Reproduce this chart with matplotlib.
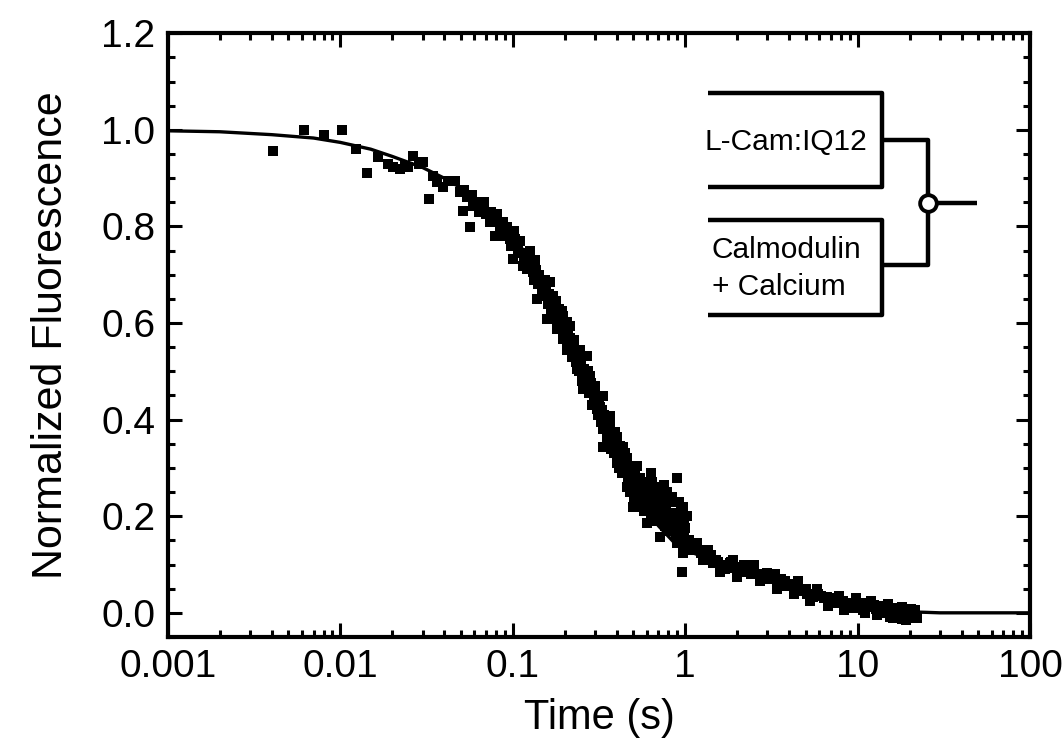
import matplotlib
matplotlib.use('Agg')
from matplotlib import pyplot as plt
from matplotlib.ticker import LogLocator, MultipleLocator, NullFormatter, FixedLocator, FixedFormatter, FormatStrFormatter

plt.rcParams['font.family'] = ['Liberation Sans', 'DejaVu Sans']

# stopped-flow trace (time in s, normalized fluorescence)
time_s = [
    0.0041, 0.0062, 0.0080, 0.0102, 0.0123, 0.0143, 0.0165, 0.0190, 0.0202, 0.0222,
    0.0237, 0.0247, 0.0264, 0.0285, 0.0302, 0.0326, 0.0344, 0.0363, 0.0394, 0.0420,
    0.0462, 0.0494, 0.0514, 0.0540, 0.0565, 0.0588, 0.0620, 0.0671, 0.0700, 0.0737,
    0.0788, 0.0809, 0.0843, 0.0880, 0.0925, 0.0963, 0.1000, 0.1020, 0.1050, 0.1100,
    0.1146, 0.1180, 0.1210, 0.1260, 0.1311, 0.1350, 0.1380, 0.1420, 0.1490, 0.1530,
    0.1580, 0.1640, 0.1640, 0.1680, 0.1710, 0.1710, 0.1760, 0.1800, 0.1850, 0.1900,
    0.1950, 0.1950, 0.2000, 0.2050, 0.2050, 0.2100, 0.2140, 0.2180, 0.2230, 0.2280,
    0.2360, 0.2400, 0.2450, 0.2500, 0.2560, 0.2620, 0.2690, 0.2690, 0.2750, 0.2800,
    0.2880, 0.2950, 0.3000, 0.3080, 0.3150, 0.3200, 0.3270, 0.3330, 0.3330, 0.3330,
    0.3400, 0.3500, 0.3580, 0.3660, 0.3660, 0.3750, 0.3850, 0.3930, 0.4020, 0.4020,
    0.4100, 0.4200, 0.4340, 0.4450, 0.4570, 0.4600, 0.4750, 0.4900, 0.4980, 0.5100,
    0.5250, 0.5400, 0.5500, 0.5680, 0.5800, 0.6000, 0.6100, 0.6250, 0.6400, 0.6550,
    0.6700, 0.6900, 0.7100, 0.7200, 0.7410, 0.7600, 0.7800, 0.8000, 0.8200, 0.8490,
    0.8700, 0.8940, 0.9100, 0.9300, 0.9500, 0.9600, 0.9700, 0.9900, 1.0200, 0.5300,
    0.5900, 0.6600, 0.7500, 0.8300, 0.9000, 0.9800, 0.4300, 0.4800, 0.6300, 0.8800,
    1.0500, 1.1000, 1.1700, 1.2300, 1.3000, 1.3500, 1.3800, 1.4500, 1.4500, 1.5500,
    1.6000, 1.6500, 1.7500, 1.8200, 1.8200, 1.9000, 1.9500, 2.0000, 2.1000, 2.2800,
    2.2800, 2.4500, 2.5000, 2.6000, 2.7000, 2.8200, 2.9800, 3.2000, 3.3000, 3.4000,
    3.5500, 3.8000, 4.1000, 4.3000, 4.4500, 4.5000, 4.8000, 5.1000, 5.3000, 5.5100,
    5.8000, 5.9000, 6.4000, 6.7000, 6.9200, 7.4000, 7.8000, 8.0000, 8.3000, 8.6800,
    9.3000, 9.8000, 10.000, 10.700, 11.000, 11.500, 12.000, 12.400, 13.000, 13.400,
    14.300, 15.000, 15.300, 16.000, 16.500, 17.500, 18.000, 18.000, 19.100, 20.000,
    20.500, 21.000, 22.000,
    # denser part of the band
    0.0520, 0.0580, 0.0640, 0.0680, 0.0750, 0.0780, 0.0830, 0.0860, 0.0900, 0.0950,
    0.0980, 0.1030, 0.1080, 0.1120, 0.1160, 0.1200, 0.1240, 0.1280, 0.1330, 0.1370,
    0.1400, 0.1450, 0.1470, 0.1510, 0.1550, 0.1600, 0.1620, 0.1660, 0.1730, 0.1780,
    0.1820, 0.1880, 0.1920, 0.1980, 0.2030, 0.2070, 0.2120, 0.2160, 0.2200, 0.2250,
    0.2320, 0.2380, 0.2420, 0.2480, 0.2530, 0.2580, 0.2650, 0.2720, 0.2780, 0.2840,
    0.2900, 0.2980, 0.3040, 0.3110, 0.3180, 0.3240, 0.3300, 0.3370, 0.3450, 0.3530,
    0.3620, 0.3700, 0.3800, 0.3880, 0.3970, 0.4050, 0.4150, 0.4250, 0.4380, 0.4500,
    0.4650, 0.4700, 0.4850, 0.4950, 0.5050, 0.5150, 0.5350, 0.5450, 0.5600, 0.5750,
    0.5850, 0.6050, 0.6150, 0.6350, 0.6450, 0.6600, 0.6800, 0.7000, 0.7300, 0.7450,
    0.7700, 0.7900, 0.8100, 0.8350, 0.8550, 0.8800, 0.9050, 0.9200, 0.9400, 0.9550,
    0.9750, 0.9850, 1.0000, 1.0100, 1.0700, 1.1300, 1.2000, 1.2700, 1.3300, 1.4200,
    1.5000, 1.7000, 1.8500, 2.2000, 2.4000, 2.9000, 3.1000, 3.6000, 3.9000, 4.2000,
    4.7000, 5.0000, 5.6000, 6.1000, 6.6000, 7.1000, 7.6000, 8.2000, 8.9000, 9.5000,
    10.300, 11.200, 12.700, 13.800, 14.800, 16.200, 17.000, 18.600, 19.500, 20.800,
    21.500,
]
fluor = [
    0.956, 1.000, 0.990, 1.000, 0.960, 0.911, 0.944, 0.930, 0.923, 0.919,
    0.925, 0.923, 0.946, 0.930, 0.934, 0.857, 0.905, 0.892, 0.882, 0.895,
    0.894, 0.871, 0.832, 0.860, 0.799, 0.842, 0.850, 0.836, 0.825, 0.809,
    0.780, 0.826, 0.795, 0.810, 0.799, 0.774, 0.732, 0.790, 0.759, 0.770,
    0.718, 0.745, 0.712, 0.749, 0.705, 0.730, 0.649, 0.700, 0.670, 0.690,
    0.608, 0.685, 0.608, 0.640, 0.656, 0.635, 0.620, 0.587, 0.630, 0.600,
    0.614, 0.566, 0.585, 0.602, 0.560, 0.575, 0.593, 0.545, 0.552, 0.565,
    0.504, 0.530, 0.545, 0.510, 0.463, 0.490, 0.531, 0.463, 0.475, 0.490,
    0.455, 0.440, 0.470, 0.421, 0.445, 0.427, 0.400, 0.448, 0.380, 0.344,
    0.410, 0.375, 0.390, 0.407, 0.394, 0.360, 0.350, 0.375, 0.365, 0.311,
    0.330, 0.345, 0.344, 0.300, 0.261, 0.320, 0.285, 0.300, 0.220, 0.270,
    0.303, 0.240, 0.280, 0.261, 0.230, 0.187, 0.250, 0.228, 0.270, 0.210,
    0.245, 0.190, 0.158, 0.230, 0.220, 0.180, 0.250, 0.200, 0.170, 0.207,
    0.230, 0.145, 0.190, 0.178, 0.210, 0.085, 0.124, 0.160, 0.200, 0.255,
    0.210, 0.195, 0.265, 0.240, 0.280, 0.180, 0.290, 0.250, 0.290, 0.165,
    0.150, 0.130, 0.145, 0.124, 0.120, 0.130, 0.115, 0.110, 0.104, 0.105,
    0.085, 0.100, 0.098, 0.104, 0.093, 0.110, 0.095, 0.075, 0.090, 0.095,
    0.085, 0.085, 0.100, 0.080, 0.065, 0.073, 0.083, 0.070, 0.080, 0.050,
    0.062, 0.065, 0.055, 0.040, 0.048, 0.065, 0.050, 0.040, 0.025, 0.033,
    0.050, 0.038, 0.030, 0.015, 0.027, 0.025, 0.035, 0.020, 0.005, 0.012,
    0.018, 0.030, 0.020, 0.006, 0.000, 0.012, 0.025, 0.017, -0.005, 0.006,
    0.008, 0.018, -0.008, -0.010, 0.004, 0.000, -0.012, 0.012, -0.015, -0.005,
    0.008, 0.000, -0.010,
    # denser part of the band
    0.875, 0.865, 0.830, 0.850, 0.830, 0.815, 0.810, 0.780, 0.790, 0.790,
    0.760, 0.775, 0.750, 0.745, 0.735, 0.730, 0.720, 0.725, 0.690, 0.710,
    0.680, 0.685, 0.660, 0.655, 0.670, 0.640, 0.660, 0.625, 0.615, 0.645,
    0.610, 0.590, 0.625, 0.570, 0.580, 0.545, 0.555, 0.570, 0.530, 0.535,
    0.520, 0.545, 0.500, 0.525, 0.480, 0.505, 0.470, 0.500, 0.455, 0.475,
    0.430, 0.455, 0.440, 0.410, 0.435, 0.395, 0.420, 0.385, 0.400, 0.365,
    0.380, 0.340, 0.375, 0.330, 0.355, 0.340, 0.300, 0.320, 0.290, 0.330,
    0.280, 0.305, 0.250, 0.290, 0.240, 0.285, 0.260, 0.220, 0.270, 0.210,
    0.255, 0.220, 0.270, 0.200, 0.240, 0.225, 0.260, 0.210, 0.190, 0.245,
    0.215, 0.190, 0.230, 0.240, 0.185, 0.205, 0.160, 0.230, 0.150, 0.190,
    0.220, 0.140, 0.175, 0.150, 0.140, 0.135, 0.130, 0.110, 0.120, 0.120,
    0.110, 0.090, 0.105, 0.100, 0.080, 0.070, 0.078, 0.070, 0.055, 0.060,
    0.045, 0.050, 0.040, 0.035, 0.033, 0.030, 0.020, 0.025, 0.020, 0.010,
    0.012, 0.020, 0.008, 0.015, 0.000, 0.010, -0.005, 0.005, -0.010, -0.010,
    0.005,
]

# fitted curve
fit_time = [0.001, 0.002, 0.004, 0.007, 0.01, 0.015, 0.02, 0.03, 0.04, 0.05,
            0.07, 0.1, 0.13, 0.16, 0.2, 0.25, 0.3, 0.35, 0.4, 0.5,
            0.6, 0.7, 0.85, 1.0, 1.3, 1.6, 2.0, 2.5, 3.0, 4.0,
            5.0, 6.0, 7.0, 8.5, 10.0, 13.0, 16.0, 20.0, 25.0, 30.0,
            50.0, 100.0]
fit_fluor = [0.998, 0.996, 0.990, 0.983, 0.974, 0.960, 0.945, 0.922, 0.900, 0.880,
             0.840, 0.780, 0.725, 0.675, 0.605, 0.525, 0.455, 0.395, 0.345, 0.270,
             0.215, 0.180, 0.148, 0.130, 0.115, 0.105, 0.095, 0.085, 0.075, 0.058,
             0.045, 0.035, 0.028, 0.020, 0.014, 0.008, 0.004, 0.002, 0.001, 0.0,
             0.0, 0.0]

xtick_vals = [0.001, 0.01, 0.1, 1, 10, 100]
xtick_labels = ['0.001', '0.01', '0.1', '1', '10', '100']

fig = plt.figure(figsize=(10.62, 7.5), dpi=100)
ax = fig.add_axes([0.158, 0.1507, 0.812, 0.805])

ax.plot(fit_time, fit_fluor, '-', color='black', lw=2.4)
ax.plot(time_s, fluor, 's', color='black', markersize=7.3, markeredgewidth=0)

ax.set_xscale('log')
ax.set_xlim(0.001, 100)
ax.set_ylim(-0.05, 1.2)
ax.xaxis.set_major_locator(FixedLocator(xtick_vals))
ax.xaxis.set_major_formatter(FixedFormatter(xtick_labels))
ax.xaxis.set_minor_locator(LogLocator(base=10, subs=[2, 3, 4, 5, 6, 7, 8, 9], numticks=20))
ax.xaxis.set_minor_formatter(NullFormatter())
ax.yaxis.set_major_locator(FixedLocator([0.0, 0.2, 0.4, 0.6, 0.8, 1.0, 1.2]))
ax.yaxis.set_major_formatter(FormatStrFormatter('%.1f'))
ax.yaxis.set_minor_locator(MultipleLocator(0.05))

ax.tick_params(which='both', direction='in', top=True, right=True, width=2.2, labelsize=28)
ax.tick_params(which='major', length=10, pad=9)
ax.tick_params(which='minor', length=5)
for s in ax.spines.values():
    s.set_linewidth(3)

ax.set_xlabel('Time (s)', fontsize=30, labelpad=9)
ax.set_ylabel('Normalized Fluorescence', fontsize=31, labelpad=22)

# mixing scheme inset
kw = dict(transform=ax.transAxes, color='black', lw=3.2, solid_capstyle='butt', clip_on=False)
ax.plot([0.6265, 0.8283, 0.8283, 0.6265], [0.9007, 0.9007, 0.745, 0.745], **kw)
ax.plot([0.6265, 0.8283, 0.8283, 0.6265], [0.6904, 0.6904, 0.5331, 0.5331], **kw)
ax.plot([0.8283, 0.8817, 0.8817, 0.8283], [0.8228, 0.8228, 0.6159, 0.6159], **kw)
ax.plot([0.8817, 0.9385], [0.7185, 0.7185], **kw)
ax.plot([0.8817], [0.7185], 'o', transform=ax.transAxes, markersize=12,
        markerfacecolor='white', markeredgecolor='black', markeredgewidth=2.8)
ax.text(0.717, 0.8195, 'L-Cam:IQ12', transform=ax.transAxes, fontsize=21.5,
        ha='center', va='center')
ax.text(0.631, 0.6407, 'Calmodulin', transform=ax.transAxes, fontsize=21.5,
        ha='left', va='center')
ax.text(0.631, 0.5795, '+ Calcium', transform=ax.transAxes, fontsize=21.5,
        ha='left', va='center')

plt.savefig('out.png', dpi=100)
